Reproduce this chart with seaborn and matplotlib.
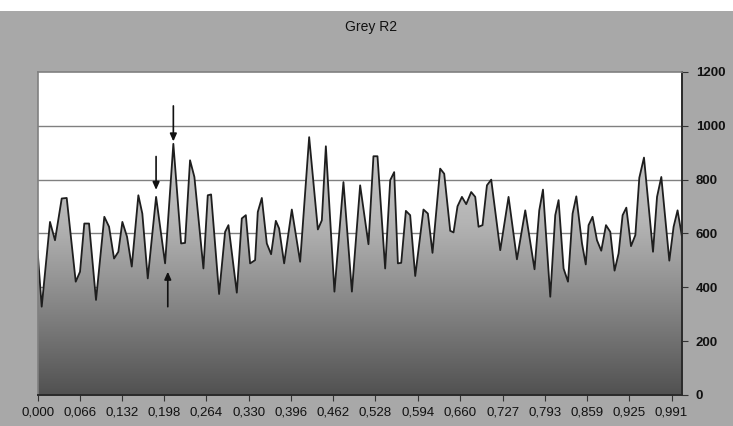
import numpy as np
import pandas as pd
import seaborn as sns
import matplotlib.pyplot as plt
from matplotlib.colors import LinearSegmentedColormap

# vertices of the R2 profile (x in axis units, y in grey level)
pos = [0.000, 0.0064, 0.0194, 0.0272, 0.0377, 0.0455, 0.0596, 0.0663, 0.0730, 0.0804,
       0.0913, 0.1043, 0.1117, 0.1195, 0.1262, 0.1325, 0.1398, 0.1472, 0.1575, 0.1637,
       0.1722, 0.1852, 0.1993, 0.2122, 0.2243, 0.2305, 0.2383, 0.2451, 0.2592, 0.2660,
       0.2712, 0.2837, 0.2931, 0.2983, 0.3114, 0.3192, 0.3255, 0.3322, 0.3400, 0.3442,
       0.3505, 0.3583, 0.3650, 0.3724, 0.3775, 0.3854, 0.3974, 0.4104, 0.4245, 0.4381,
       0.4443, 0.4506, 0.4640, 0.4781, 0.4913, 0.5042, 0.5172, 0.5250, 0.5313, 0.5433,
       0.5512, 0.5574, 0.5632, 0.5684, 0.5757, 0.5824, 0.5903, 0.6032, 0.6101, 0.6173,
       0.6293, 0.6356, 0.6450, 0.6502, 0.6564, 0.6633, 0.6700, 0.6778, 0.6841, 0.6893,
       0.6955, 0.7024, 0.7091, 0.7232, 0.7362, 0.7493, 0.7623, 0.7768, 0.7842, 0.7900,
       0.8014, 0.8092, 0.8144, 0.8222, 0.8291, 0.8363, 0.8421, 0.8510, 0.8569, 0.8613,
       0.8675, 0.8744, 0.8811, 0.8885, 0.8952, 0.9019, 0.9082, 0.9145, 0.9203, 0.9276,
       0.9344, 0.9406, 0.9479, 0.9620, 0.9683, 0.9750, 0.9875, 0.9942, 1.0004, 1.0073]
grey = [535, 328, 643, 575, 730, 732, 421, 458, 637, 637,
        353, 662, 625, 507, 532, 643, 588, 477, 742, 674,
        433, 736, 489, 933, 563, 565, 872, 810, 470, 742,
        745, 375, 606, 631, 380, 656, 668, 489, 501, 680,
        732, 563, 523, 647, 619, 489, 689, 495, 958, 615,
        649, 924, 384, 791, 384, 779, 560, 887, 887, 470,
        798, 828, 489, 491, 684, 668, 442, 689, 674, 528,
        841, 822, 610, 604, 701, 736, 709, 754, 736, 625,
        631, 779, 800, 538, 736, 504, 686, 467, 686, 763,
        365, 668, 724, 470, 421, 674, 738, 563, 485, 631,
        662, 575, 536, 631, 606, 462, 526, 668, 696, 553,
        594, 807, 882, 532, 736, 810, 499, 625, 686, 588]

xtick_labels = ['0,000', '0,066', '0,132', '0,198', '0,264', '0,330', '0,396', '0,462',
                '0,528', '0,594', '0,660', '0,727', '0,793', '0,859', '0,925', '0,991']
yticks = [0, 200, 400, 600, 800, 1000, 1200]

# arrows: x, start level, tip level
arrow_x = [0.1852, 0.2122, 0.2035]
arrow_from = [886, 1074, 328]
arrow_to = [762, 942, 458]

df = pd.DataFrame({'pos': pos, 'grey': grey})
xmax = pos[-1]

plt.rcParams['font.family'] = ['Liberation Sans', 'DejaVu Sans']

fig = plt.figure(figsize=(7.33, 4.26), dpi=100, facecolor='#a8a8a8')
fig.patches.append(plt.Rectangle((0, 415/426), 1, 11/426, transform=fig.transFigure,
                                 facecolor='white', edgecolor='none', zorder=0))
ax = fig.add_axes([0.0513, 0.0728, 0.8791, 0.7582])
ax.set_facecolor('white')

# gridlines under the area
for v in yticks[1:-1]:
    ax.axhline(v, color='#808080', lw=1.0, zorder=0)

# gradient filled area
poly = ax.fill_between(df['pos'], 0, df['grey'], facecolor='none', edgecolor='none', zorder=1)
cmap = LinearSegmentedColormap.from_list('g', ['#515151', '#848484', '#b4b4b4', '#cacaca'])
grad = np.linspace(0, 1, 256).reshape(-1, 1)
im = ax.imshow(grad, cmap=cmap, aspect='auto', origin='lower',
               extent=(0, xmax, 0, max(grey)), zorder=1)
im.set_clip_path(poly.get_paths()[0], transform=ax.transData)

sns.lineplot(data=df, x='pos', y='grey', sort=False, estimator=None,
             color='#1e1e1e', lw=1.3, ax=ax, zorder=2)

for xa, y0, y1 in zip(arrow_x, arrow_from, arrow_to):
    ax.annotate('', xy=(xa, y1), xytext=(xa, y0),
                arrowprops=dict(arrowstyle='-|>,head_length=0.45,head_width=0.2',
                                color='#111111', lw=1.2, shrinkA=0, shrinkB=0),
                zorder=3)

ax.set_xlim(0, xmax)
ax.set_ylim(0, 1200)
ax.set_xlabel('')
ax.set_ylabel('')

ax.set_xticks([float(s.replace(',', '.')) for s in xtick_labels])
ax.set_xticklabels(xtick_labels, fontsize=9.5,
                   family=['Liberation Sans Narrow', 'Liberation Sans', 'DejaVu Sans'])
ax.yaxis.tick_right()
ax.set_yticks(yticks)
ax.set_yticklabels([str(v) for v in yticks], fontsize=9.5, fontweight='bold')
ax.tick_params(axis='x', direction='out', length=4, color='#333333', pad=4, labelcolor='#111111')
ax.tick_params(axis='y', direction='out', length=4, color='#333333', pad=6, labelcolor='#111111')

for side in ['left', 'top']:
    ax.spines[side].set_color('#808080')
    ax.spines[side].set_linewidth(1.2)
for side in ['bottom', 'right']:
    ax.spines[side].set_color('#2a2a2a')
    ax.spines[side].set_linewidth(1.4)

fig.text(371/733, 1 - 27/426, 'Grey R2', ha='center', va='center', fontsize=10, color='#111111')

fig.savefig('out.png', dpi=100, facecolor=fig.get_facecolor())
